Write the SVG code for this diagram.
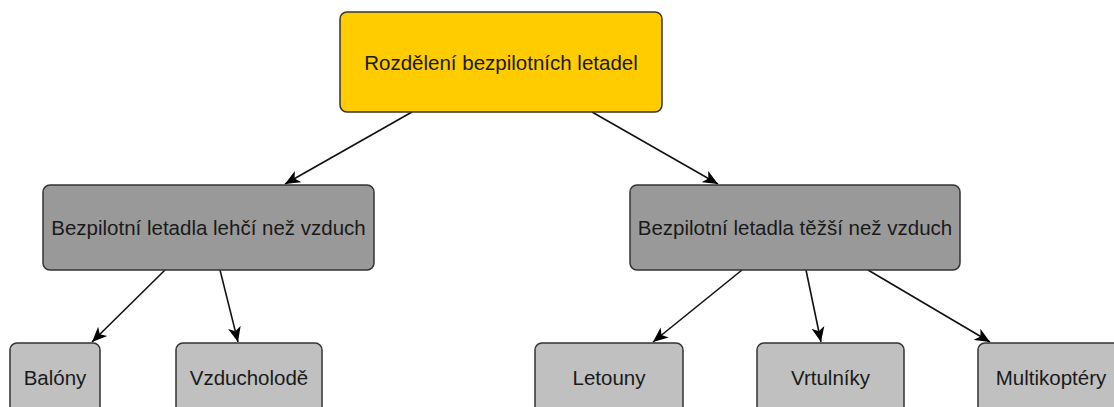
<svg xmlns="http://www.w3.org/2000/svg" width="1114" height="407" viewBox="0 0 1114 407">
<style>
.box{stroke:#333333;stroke-width:1.5}
.top{fill:#FFCC00}
.mid{fill:#999999}
.leaf{fill:#C0C0C0}
text{font-family:"Liberation Sans",Arial,sans-serif;font-size:20.5px;fill:#1a1a1a;text-anchor:middle}
.edge{stroke:#111111;stroke-width:1.6;fill:none;marker-end:url(#arr)}
</style>
<defs>
<marker id="arr" markerUnits="userSpaceOnUse" markerWidth="16" markerHeight="14" viewBox="0 0 16 14" refX="15" refY="7" orient="auto">
<path d="M0,0.5 L15,7 L0,13.5 L4,7 Z" fill="#000000"/>
</marker>
</defs>
<rect width="1114" height="407" fill="#ffffff"/>
<g id="connectors">
<line class="edge" x1="412" y1="112" x2="285" y2="184"/>
<line class="edge" x1="592" y1="112" x2="718" y2="184"/>
<line class="edge" x1="165" y1="270" x2="92" y2="342"/>
<line class="edge" x1="220" y1="270" x2="238" y2="342"/>
<line class="edge" x1="742" y1="270" x2="653" y2="342"/>
<line class="edge" x1="806" y1="270" x2="821" y2="342"/>
<line class="edge" x1="868" y1="270" x2="990" y2="342"/>
</g>
<g id="root">
<rect class="box top" x="340" y="12" width="322" height="100" rx="7"/>
<text x="501" y="69.5">Rozdělení bezpilotních letadel</text>
</g>
<g id="lighter">
<rect class="box mid" x="43" y="185" width="331" height="85" rx="7"/>
<text x="208.5" y="235">Bezpilotní letadla lehčí než vzduch</text>
</g>
<g id="heavier">
<rect class="box mid" x="630" y="185" width="330" height="85" rx="7"/>
<text x="795" y="235">Bezpilotní letadla těžší než vzduch</text>
</g>
<g id="balony">
<rect class="box leaf" x="10" y="343" width="90" height="75" rx="7"/>
<text x="55" y="385">Balóny</text>
</g>
<g id="vzducholode">
<rect class="box leaf" x="176" y="343" width="146" height="75" rx="7"/>
<text x="249" y="385">Vzducholodě</text>
</g>
<g id="letouny">
<rect class="box leaf" x="535" y="343" width="148" height="75" rx="7"/>
<text x="609" y="385">Letouny</text>
</g>
<g id="vrtulniky">
<rect class="box leaf" x="757" y="343" width="147" height="75" rx="7"/>
<text x="830.5" y="385">Vrtulníky</text>
</g>
<g id="multikoptery">
<rect class="box leaf" x="978" y="343" width="146" height="75" rx="7"/>
<text x="1051" y="385">Multikoptéry</text>
</g>
</svg>
